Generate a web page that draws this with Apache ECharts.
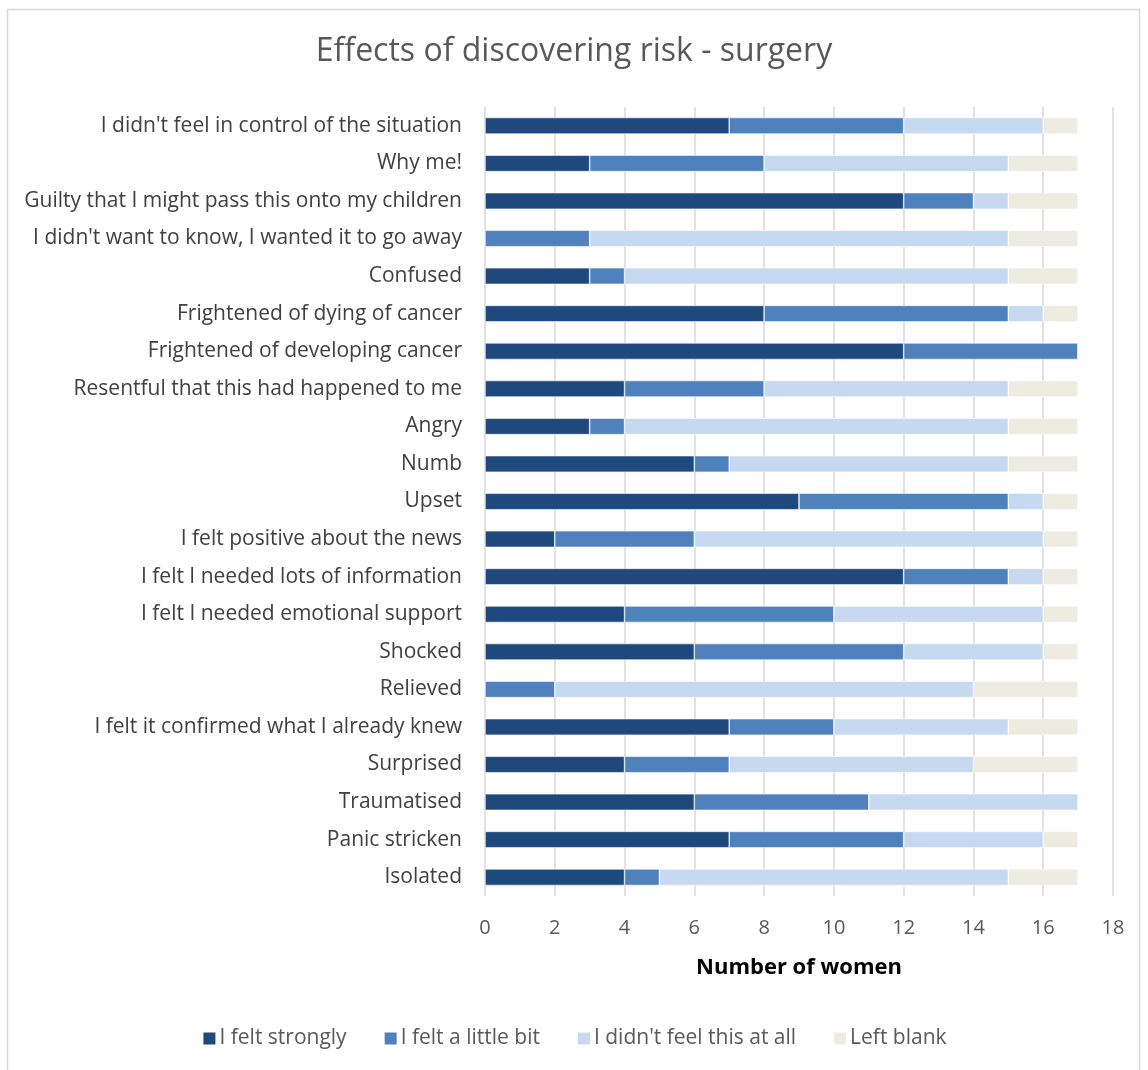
<!DOCTYPE html>
<html>
<head>
<meta charset="utf-8">
<script src="https://cdn.jsdelivr.net/npm/echarts@6/dist/echarts.min.js"></script>
<style>
  html, body { margin: 0; padding: 0; background: #fff; }
  #chart { width: 1148px; height: 1070px; }
</style>
</head>
<body>
<div id="chart"></div>
<script>
// Statements, listed top to bottom as shown
const categories = [
  "I didn't feel in control of the situation",
  "Why me!",
  "Guilty that I might pass this onto my children",
  "I didn't want to know, I wanted it to go away",
  "Confused",
  "Frightened of dying of cancer",
  "Frightened of developing cancer",
  "Resentful that this had happened to me",
  "Angry",
  "Numb",
  "Upset",
  "I felt positive about the news",
  "I felt I needed lots of information",
  "I felt I needed emotional support",
  "Shocked",
  "Relieved",
  "I felt it confirmed what I already knew",
  "Surprised",
  "Traumatised",
  "Panic stricken",
  "Isolated"
];

const feltStrongly   = [7, 3, 12, 0, 3, 8, 12, 4, 3, 6, 9, 2, 12, 4, 6, 0, 7, 4, 6, 7, 4];
const feltLittleBit  = [5, 5, 2, 3, 1, 7, 5, 4, 1, 1, 6, 4, 3, 6, 6, 2, 3, 3, 5, 5, 1];
const didntFeel      = [4, 7, 1, 12, 11, 1, 0, 7, 11, 8, 1, 10, 1, 6, 4, 12, 5, 7, 6, 4, 10];
const leftBlank      = [1, 2, 2, 2, 2, 1, 0, 2, 2, 2, 1, 1, 1, 1, 1, 3, 2, 3, 0, 1, 2];

const seriesNames = ["I felt strongly", "I felt a little bit", "I didn't feel this at all", "Left blank"];
const seriesColors = ["#1F497D", "#4F81BD", "#C6D9F1", "#EEECE1"];
const seriesValues = [feltStrongly, feltLittleBit, didntFeel, leftBlank];

const FONT = "'Open Sans', sans-serif";

const chart = echarts.init(document.getElementById('chart'), null, { renderer: 'canvas' });

chart.setOption({
  animation: false,
  backgroundColor: '#ffffff',
  textStyle: { fontFamily: FONT },
  graphic: [{
    type: 'rect',
    shape: { x: 7.5, y: 9.5, width: 1132, height: 1070 },
    style: { fill: 'none', stroke: '#D9D9D9', lineWidth: 1.5 },
    silent: true,
    z: -1
  }],
  title: {
    text: 'Effects of discovering risk - surgery',
    left: 'center',
    top: 31,
    textStyle: { fontFamily: FONT, fontSize: 32, fontWeight: 'normal', color: '#595959' }
  },
  legend: {
    bottom: 16,
    left: 'center',
    itemWidth: 14,
    itemHeight: 14,
    itemGap: 36,
    icon: 'rect',
    textStyle: { fontFamily: FONT, fontSize: 21, color: '#595959', padding: [0, 0, 0, -2] },
    data: seriesNames
  },
  grid: { left: 485, right: 35, top: 107, bottom: 174, containLabel: false },
  xAxis: {
    type: 'value',
    min: 0,
    max: 18,
    interval: 2,
    name: 'Number of women',
    nameLocation: 'middle',
    nameGap: 61,
    nameTextStyle: { fontFamily: FONT, fontSize: 22, fontWeight: 'bold', color: '#000000' },
    axisLine: { show: false },
    axisTick: { show: false },
    axisLabel: { fontFamily: FONT, fontSize: 20, color: '#595959', margin: 22 },
    splitLine: { show: true, lineStyle: { color: '#D9D9D9', width: 1.5 } }
  },
  yAxis: {
    type: 'category',
    inverse: true,
    data: categories,
    axisLine: { show: false },
    axisTick: { show: false },
    axisLabel: { fontFamily: FONT, fontSize: 21, color: '#404040', margin: 23 }
  },
  series: seriesNames.map((name, i) => ({
    name: name,
    type: 'bar',
    stack: 'total',
    barCategoryGap: '56%',
    data: seriesValues[i],
    itemStyle: { color: seriesColors[i], borderColor: '#ffffff', borderWidth: 0.6 }
  }))
});
</script>
</body>
</html>
